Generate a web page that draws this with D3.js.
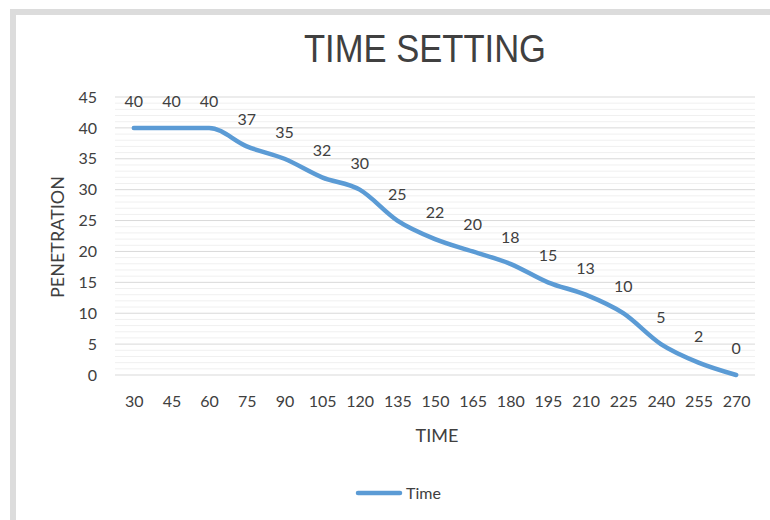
<!DOCTYPE html>
<html>
<head>
<meta charset="utf-8">
<script src="https://cdn.jsdelivr.net/npm/d3@7"></script>
<style>
html,body{margin:0;padding:0;background:#fff;}
svg{display:block;}
text{fill:#404040;}
</style>
</head>
<body>
<svg id="chart" width="770" height="520"></svg>
<script>
const categories = [30,45,60,75,90,105,120,135,150,165,180,195,210,225,240,255,270];
const penetration = [40,40,40,37,35,32,30,25,22,20,18,15,13,10,5,2,0];
const yTicks = [0,5,10,15,20,25,30,35,40,45];
const seriesName = "Time";
const chartTitle = "TIME SETTING";
const xTitle = "TIME";
const yTitle = "PENETRATION";

(function(){
const FONT = "Lato, 'Open Sans', sans-serif";
const svg = d3.select("#chart");
// frame
svg.append("rect").attr("x",13).attr("y",12).attr("width",780).attr("height",530)
  .attr("fill","none").attr("stroke","#dcdcdc").attr("stroke-width",6);

const pLeft = 115, pRight = 755, pTop = 97, pBottom = 375;
const x = d3.scalePoint().domain(categories).range([pLeft, pRight]).padding(0.5);
const y = d3.scaleLinear().domain([0,45]).range([pBottom, pTop]);

// minor gridlines
const minor = d3.range(0,46,1).filter(v => v % 5 !== 0);
svg.append("g").selectAll("line").data(minor).join("line")
  .attr("x1",pLeft).attr("x2",pRight).attr("y1",d=>y(d)).attr("y2",d=>y(d))
  .attr("stroke","#f0f0f0").attr("stroke-width",1);
// major gridlines
svg.append("g").selectAll("line").data(yTicks).join("line")
  .attr("x1",pLeft).attr("x2",pRight).attr("y1",d=>y(d)).attr("y2",d=>y(d))
  .attr("stroke","#d9d9d9").attr("stroke-width",1);

// y axis labels
const yAxis = d3.axisLeft(y).tickValues(yTicks).tickSize(0).tickPadding(0);
const gy = svg.append("g").attr("transform",`translate(${pLeft-18},0)`).call(yAxis);
gy.select(".domain").remove();
gy.selectAll("text").style("font-size","16px").style("font-family",FONT).attr("fill","#404040");

// x axis labels
const xAxis = d3.axisBottom(x).tickSize(0).tickPadding(0);
const gx = svg.append("g").attr("transform",`translate(0,${pBottom+21})`).call(xAxis);
gx.select(".domain").remove();
gx.selectAll("text").style("font-size","16px").style("font-family",FONT).attr("fill","#404040");

// line
const line = d3.line().x((d,i)=>x(categories[i])).y(d=>y(d)).curve(d3.curveMonotoneX);
svg.append("path").datum(penetration).attr("d",line)
  .attr("fill","none").attr("stroke","#5b9bd5").attr("stroke-width",4.5)
  .attr("stroke-linecap","round").attr("stroke-linejoin","round");

// data labels
svg.append("g").selectAll("text").data(penetration).join("text")
  .attr("x",(d,i)=>x(categories[i])).attr("y",d=>y(d)-21)
  .attr("text-anchor","middle").style("font-family",FONT).style("font-size","16px").text(d=>d);

// title
svg.append("text").attr("x",425).attr("y",62).attr("text-anchor","middle")
  .style("font-family","'Liberation Sans', Arial, sans-serif").style("font-size","39px")
  .attr("textLength",242).attr("lengthAdjust","spacingAndGlyphs").text(chartTitle);

// axis titles
svg.append("text").attr("x",437).attr("y",442).attr("text-anchor","middle")
  .style("font-family",FONT).style("font-size","18px").text(xTitle);
svg.append("text").attr("transform","translate(64,237) rotate(-90)").attr("text-anchor","middle")
  .style("font-family",FONT).style("font-size","18px").text(yTitle);

// legend
svg.append("line").attr("x1",358).attr("x2",400).attr("y1",493).attr("y2",493)
  .attr("stroke","#5b9bd5").attr("stroke-width",4.5).attr("stroke-linecap","round");
svg.append("text").attr("x",406).attr("y",499).style("font-family",FONT).style("font-size","16px").text(seriesName);
})();
</script>
</body>
</html>
